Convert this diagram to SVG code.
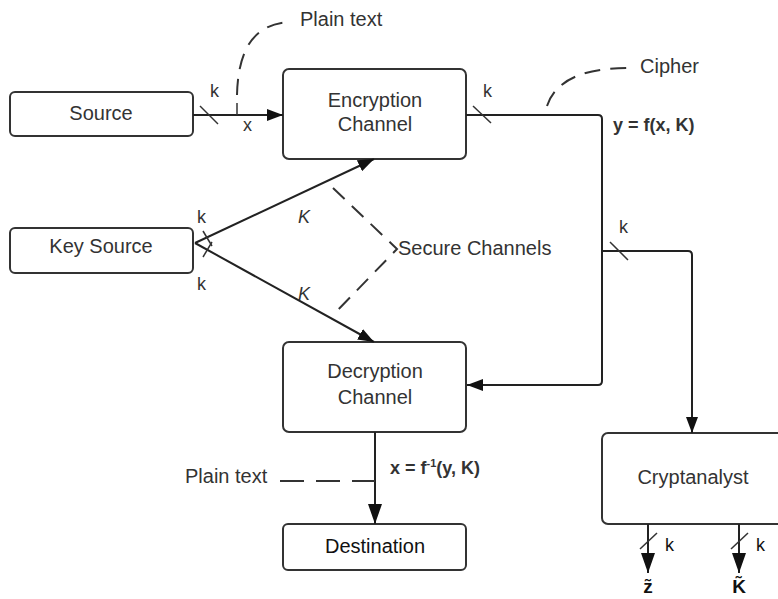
<svg xmlns="http://www.w3.org/2000/svg" width="778" height="599" viewBox="0 0 778 599">
<style>
.box{fill:#fff;stroke:#333;stroke-width:2}
.t{font-family:"Liberation Sans",Arial,sans-serif;font-size:20px;fill:#333}
.m{text-anchor:middle}
.b{font-weight:bold}
.ln{fill:none;stroke:#222;stroke-width:2}
.th{fill:none;stroke:#333;stroke-width:1.5}
.ds{fill:none;stroke:#333;stroke-width:2;stroke-dasharray:16 10}
</style>
<defs>
<marker id="ah" viewBox="0 0 16 12" refX="16" refY="6" markerWidth="8" markerHeight="6" markerUnits="strokeWidth" orient="auto">
<path d="M0,0 L16,6 L0,12 Z" fill="#111"/>
</marker>
<marker id="ahl" viewBox="0 0 20 14" refX="20" refY="7" markerWidth="10" markerHeight="7" markerUnits="strokeWidth" orient="auto">
<path d="M0,0 L20,7 L0,14 Z" fill="#111"/>
</marker>
</defs>
<rect width="778" height="599" fill="#fff"/>

<g id="source"><rect class="box" x="10" y="92" width="183" height="44" rx="5"/><text class="t m" x="101" y="120">Source</text></g>
<g id="encryption"><rect class="box" x="283" y="69" width="183" height="90" rx="6"/><text class="t m" x="375" y="107">Encryption</text><text class="t m" x="375" y="131">Channel</text></g>
<g id="keysource"><rect class="box" x="10" y="228" width="183" height="45" rx="5"/><text class="t m" x="101" y="253">Key Source</text></g>
<g id="decryption"><rect class="box" x="283" y="342" width="183" height="90" rx="6"/><text class="t m" x="375" y="378">Decryption</text><text class="t m" x="375" y="404">Channel</text></g>
<g id="destination"><rect class="box" x="283" y="524" width="183" height="46" rx="5"/><text class="t m" x="375" y="553" style="fill:#111">Destination</text></g>
<g id="cryptanalyst"><rect class="box" x="602" y="433" width="190" height="91" rx="6"/><text class="t m" x="693" y="484">Cryptanalyst</text></g>

<g id="connectors">
<line class="ln" x1="193" y1="115" x2="283" y2="115" marker-end="url(#ah)"/>
<line class="th" x1="200" y1="106" x2="218" y2="124"/>
<line class="th" x1="237" y1="103" x2="237" y2="115"/>
<path class="ds" d="M237,95 C238,55 250,25 288,22"/>

<path class="ln" d="M466,115 H598 Q602,115 602,119 V381 Q602,385 598,385 H467" marker-end="url(#ah)"/>
<line class="th" x1="473" y1="106" x2="491" y2="123"/>
<path class="ds" d="M547,106 C555,82 580,68 628,68"/>

<path class="ln" d="M602,251 H688 Q692,251 692,255 V433" marker-end="url(#ah)"/>
<line class="th" x1="610" y1="242" x2="628" y2="260"/>

<line class="ln" x1="195" y1="243" x2="374" y2="159" marker-end="url(#ah)"/>
<line class="ln" x1="195" y1="243" x2="374" y2="342" marker-end="url(#ah)"/>
<line class="th" x1="203" y1="231" x2="212" y2="246"/>
<line class="th" x1="203" y1="257" x2="212" y2="242"/>
<path class="ds" d="M333,188 L397,249 L332,316"/>

<line class="ln" x1="375" y1="432" x2="375" y2="524" marker-end="url(#ahl)"/>
<path class="ds" d="M280,481 H375" style="stroke-dasharray:24 12"/>

<line class="ln" x1="648" y1="524" x2="648" y2="573" marker-end="url(#ahl)"/>
<line class="ln" x1="739" y1="524" x2="739" y2="573" marker-end="url(#ahl)"/>
<line class="th" x1="640" y1="549" x2="657" y2="533"/>
<line class="th" x1="731" y1="549" x2="748" y2="533"/>
</g>

<g id="labels">
<text class="t" x="300" y="26">Plain text</text>
<text class="t" x="210" y="97" style="font-size:18px">k</text>
<text class="t" x="243" y="131" style="font-size:18px">x</text>
<text class="t" x="483" y="97" style="font-size:18px">k</text>
<text class="t" x="640" y="73">Cipher</text>
<text class="t b" x="613" y="131" style="font-size:18px">y = f(x, K)</text>
<text class="t" x="398" y="255">Secure Channels</text>
<text class="t" x="619" y="233" style="font-size:18px">k</text>
<text class="t" x="197" y="223" style="font-size:18px">k</text>
<text class="t" x="197" y="290" style="font-size:18px">k</text>
<text class="t" x="298" y="223" style="font-size:18px;font-style:italic">K</text>
<text class="t" x="298" y="300" style="font-size:18px;font-style:italic">K</text>
<text class="t b" x="390" y="474" style="font-size:18px">x = f<tspan dy="-7" style="font-size:11px">-1</tspan><tspan dy="7">(y, K)</tspan></text>
<text class="t" x="185" y="483">Plain text</text>
<text class="t" x="665" y="551" style="font-size:18px;fill:#111">k</text>
<text class="t" x="756" y="551" style="font-size:18px;fill:#111">k</text>
<text class="t m b" x="648" y="593" style="font-size:19px;fill:#111">z̃</text>
<text class="t m b" x="739" y="593" style="font-size:19px;fill:#111">K̃</text>
</g>
</svg>
